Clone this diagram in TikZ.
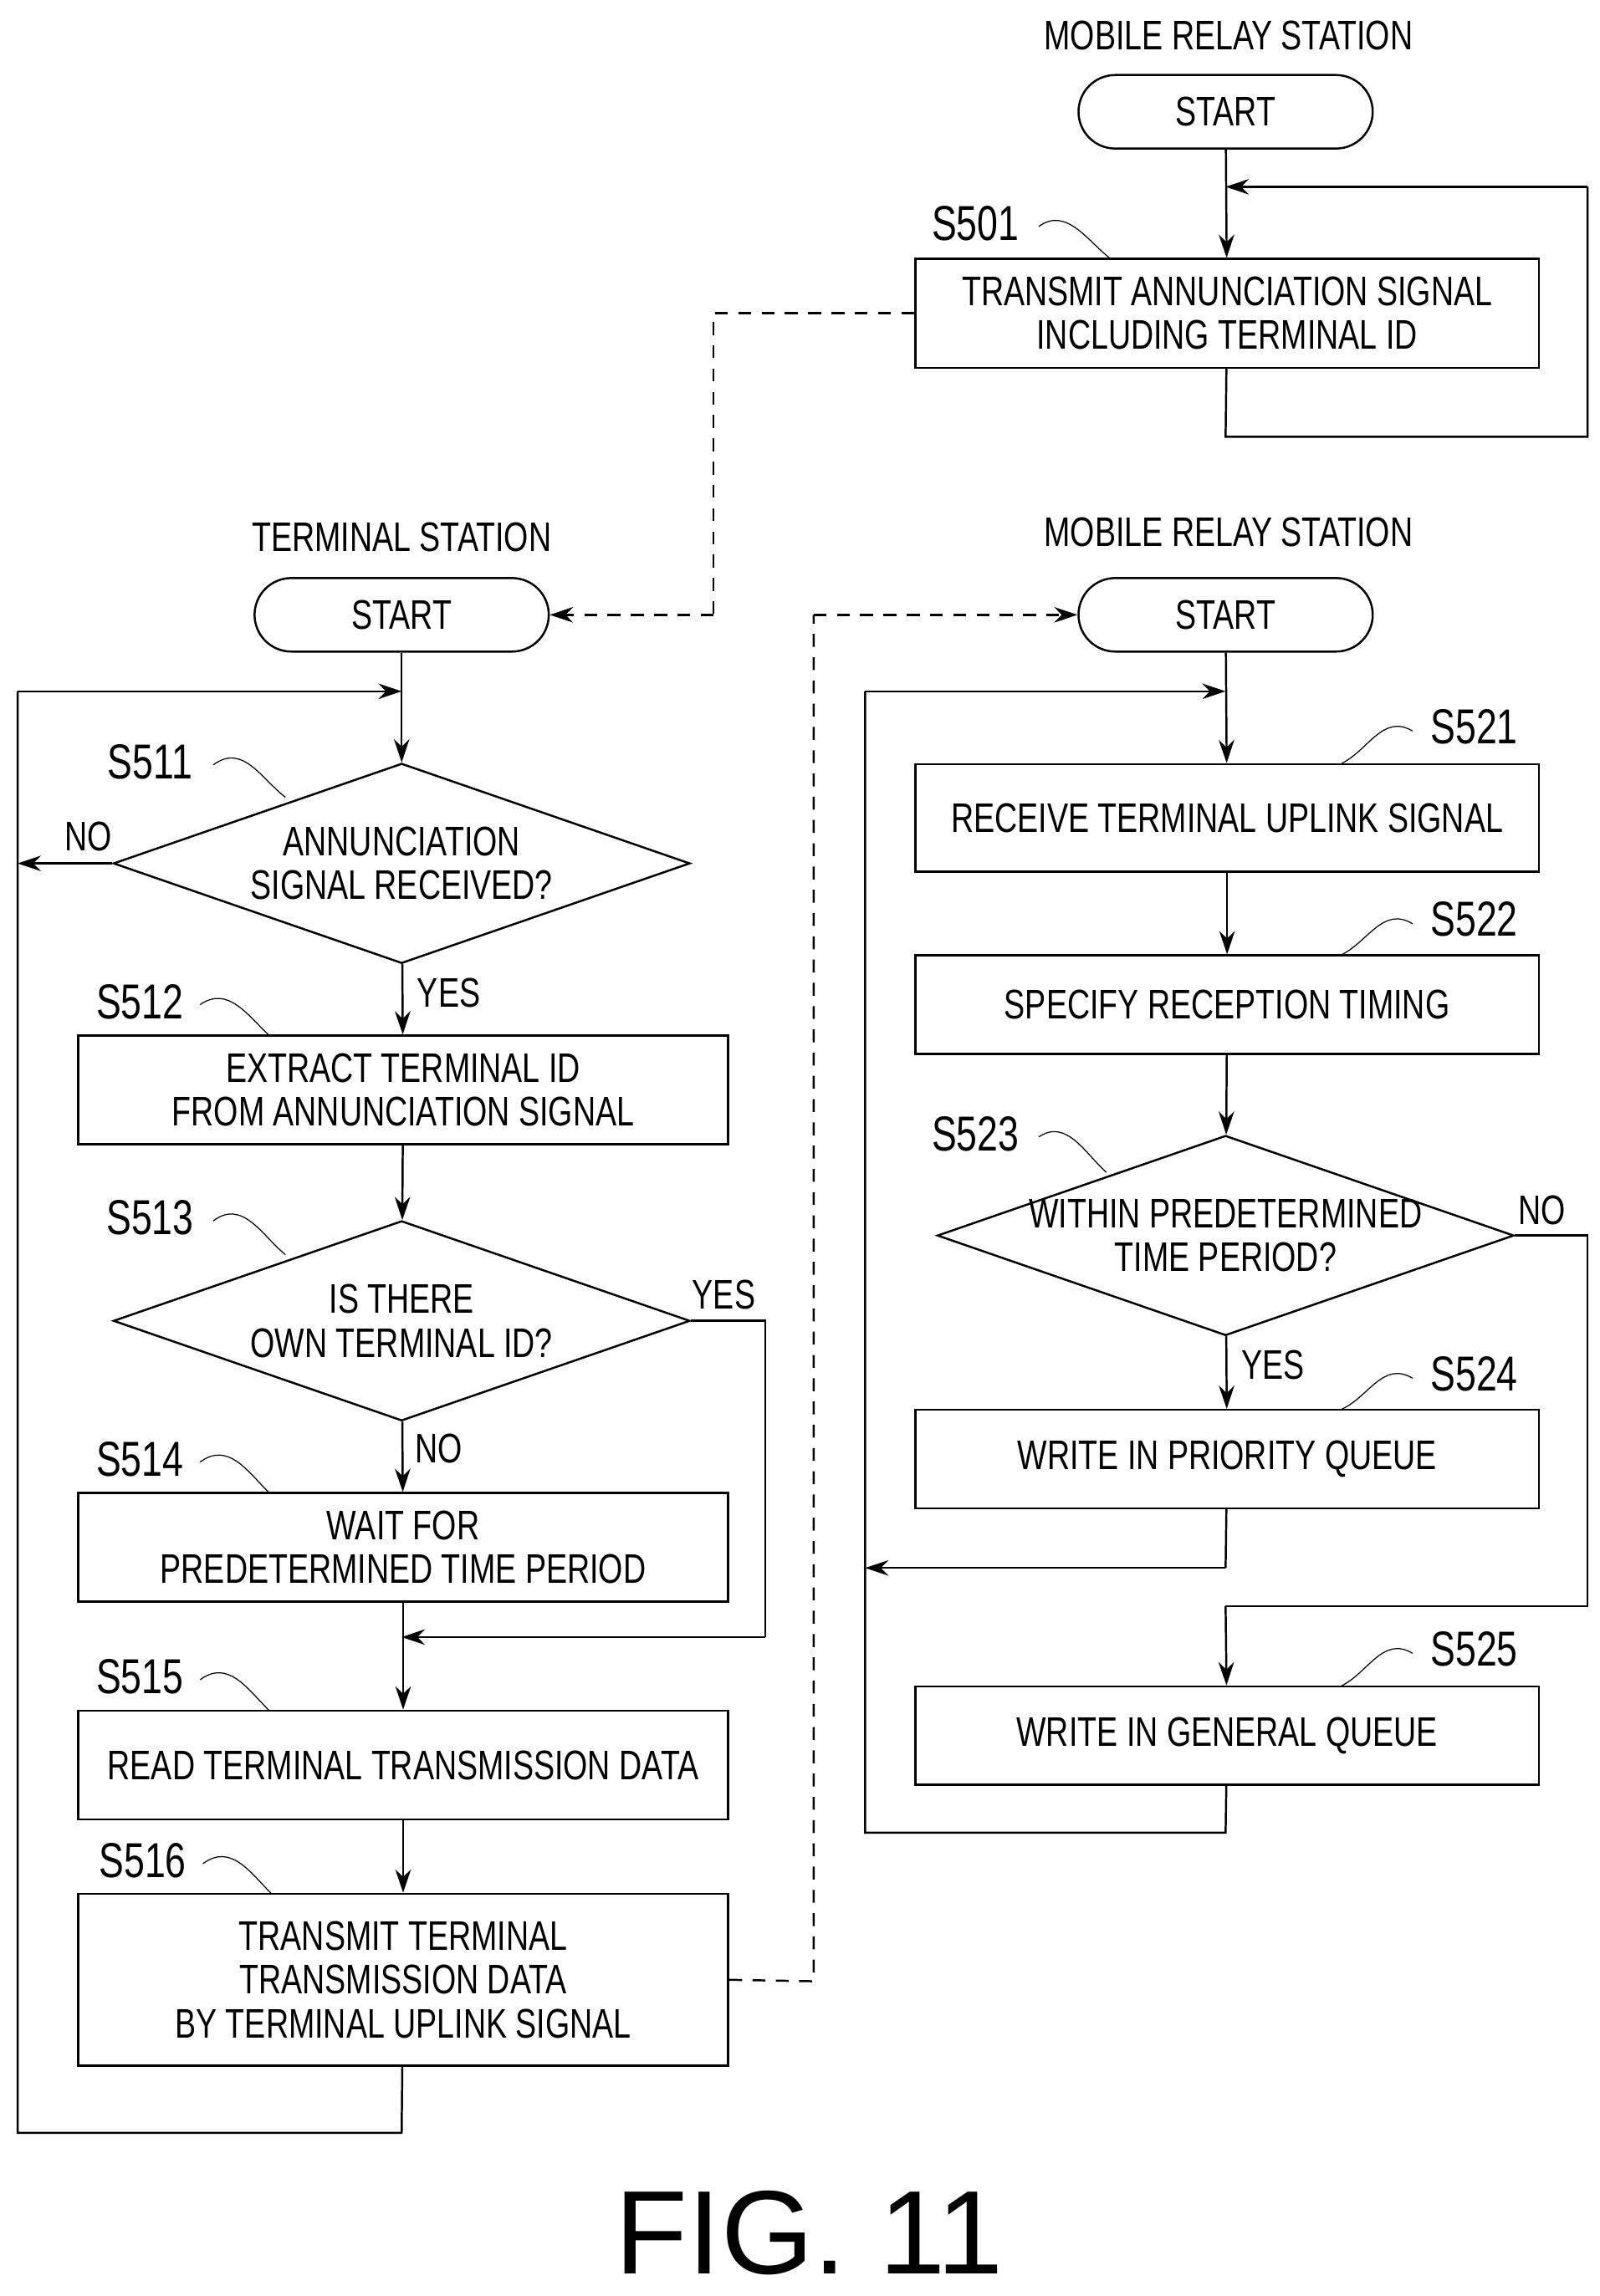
\documentclass[tikz,border=0pt]{standalone}
\usepackage{fontspec}
\setmainfont{Liberation Sans}[FakeStretch=0.76]
\newfontfamily\figfont{Liberation Sans}
\usetikzlibrary{positioning}
\usetikzlibrary{shapes.geometric,arrows.meta}

\tikzset{
	box/.style={draw, thick, rectangle, align=center, inner sep=2pt},
	term/.style={draw, thick, rounded corners=0.5cm, minimum width=4cm, minimum height=1cm},
	cond/.style={draw, thick, diamond, align=center, inner sep=-8pt, minimum width=7.84cm, minimum height=2.72cm, aspect=2.88},
	steplabel/.style={font=\fontsize{19}{22}\selectfont},
	flow/.style={thick, -{Stealth[length=9pt,width=6pt]}},
	link/.style={thick},
	radio/.style={thick, dashed, dash pattern=on 5pt off 4pt},
	tag/.style={thin},
}

\begin{document}
\begin{tikzpicture}[x=0.02cm, y=-0.02cm, font=\fontsize{16}{17}\selectfont]

	% ------------------------------------------------
	% Bounding box
	\useasboundingbox (0,0) rectangle (1087,1561);

	% ------------------------------------------------
	% Mobile relay station (annunciation)
	\node (TitleA) at (835,24) {MOBILE RELAY STATION};
	\node[term] (StartA) at (833,76) {START};
	\node[box, minimum width=8.48cm, minimum height=1.48cm] (S501) at (834,213) {TRANSMIT ANNUNCIATION SIGNAL\\INCLUDING TERMINAL ID};
	\node[steplabel] (S501L) at (663,152) {S501};

	\coordinate (LoopA1) at (833,297);
	\coordinate (LoopA2) at (1079,297);
	\coordinate (LoopA3) at (1079,127);
	\coordinate (LoopA4) at (833,127);

	\draw[flow] (StartA) -- (S501);
	\draw[link] (S501) -- (LoopA1) -- (LoopA2) -- (LoopA3);
	\draw[flow] (LoopA3) -- (LoopA4);
	\draw[tag] (706,154) .. controls (725,140) and (740,165) .. (755,176);

	% ------------------------------------------------
	% Terminal station
	\node (TitleT) at (273,365) {TERMINAL STATION};
	\node[term] (StartT) at (273,418) {START};
	\node[cond] (S511) at (273,587) {ANNUNCIATION\\SIGNAL RECEIVED?};
	\node[box, minimum width=8.84cm, minimum height=1.48cm] (S512) at (274,741) {EXTRACT TERMINAL ID\\FROM ANNUNCIATION SIGNAL};
	\node[cond] (S513) at (273,898) {IS THERE\\OWN TERMINAL ID?};
	\node[box, minimum width=8.84cm, minimum height=1.48cm] (S514) at (274,1052) {WAIT FOR\\PREDETERMINED TIME PERIOD};
	\node[box, minimum width=8.84cm, minimum height=1.48cm] (S515) at (274,1200) {READ TERMINAL TRANSMISSION DATA};
	\node[box, minimum width=8.84cm, minimum height=2.34cm] (S516) at (274,1346) {TRANSMIT TERMINAL\\TRANSMISSION DATA\\BY TERMINAL UPLINK SIGNAL};

	\node[steplabel] (S511L) at (102,518) {S511};
	\node[steplabel] (S512L) at (95,681) {S512};
	\node[steplabel] (S513L) at (102,828) {S513};
	\node[steplabel] (S514L) at (95,992) {S514};
	\node[steplabel] (S515L) at (95,1140) {S515};
	\node[steplabel] (S516L) at (97,1265) {S516};
	\node (No511) at (60,569) {NO};
	\node (Yes511) at (305,675) {YES};
	\node (Yes513) at (492,880) {YES};
	\node (No513) at (298,985) {NO};

	\coordinate (LoopT1) at (273,1450);
	\coordinate (LoopT2) at (12,1450);
	\coordinate (LoopT3) at (12,470);
	\coordinate (LoopT4) at (273,470);
	\coordinate (No511E) at (12,587);
	\coordinate (Yes513A) at (520,898);
	\coordinate (Yes513B) at (520,1113);
	\coordinate (Yes513C) at (273,1113);

	\draw[flow] (StartT) -- (S511);
	\draw[flow] (S511) -- (S512);
	\draw[flow] (S512) -- (S513);
	\draw[flow] (S513) -- (S514);
	\draw[flow] (S514) -- (S515);
	\draw[flow] (S515) -- (S516);
	\draw[flow] (S511.west) -- (No511E);
	\draw[link] (S513.east) -- (Yes513A) -- (Yes513B);
	\draw[flow] (Yes513B) -- (Yes513C);
	\draw[link] (S516) -- (LoopT1) -- (LoopT2) -- (LoopT3);
	\draw[flow] (LoopT3) -- (LoopT4);

	\draw[tag] (145,520) .. controls (165,505) and (178,530) .. (194,542);
	\draw[tag] (136,683) .. controls (155,670) and (168,690) .. (183,704);
	\draw[tag] (145,830) .. controls (165,815) and (178,840) .. (194,853);
	\draw[tag] (136,994) .. controls (155,980) and (168,1000) .. (183,1015);
	\draw[tag] (136,1142) .. controls (155,1128) and (168,1148) .. (183,1163);
	\draw[tag] (138,1267) .. controls (157,1253) and (170,1273) .. (185,1288);

	% ------------------------------------------------
	% Mobile relay station (reception)
	\node (TitleB) at (835,362) {MOBILE RELAY STATION};
	\node[term] (StartB) at (833,418) {START};
	\node[box, minimum width=8.48cm, minimum height=1.46cm] (S521) at (834,556) {RECEIVE TERMINAL UPLINK SIGNAL};
	\node[box, minimum width=8.48cm, minimum height=1.34cm] (S522) at (834,683) {SPECIFY RECEPTION TIMING};
	\node[cond, inner sep=-22pt] (S523) at (833,840) {WITHIN PREDETERMINED\\TIME PERIOD?};
	\node[box, minimum width=8.48cm, minimum height=1.34cm] (S524) at (834,992) {WRITE IN PRIORITY QUEUE};
	\node[box, minimum width=8.48cm, minimum height=1.34cm] (S525) at (834,1180) {WRITE IN GENERAL QUEUE};

	\node[steplabel] (S521L) at (1002,494) {S521};
	\node[steplabel] (S522L) at (1002,625) {S522};
	\node[steplabel] (S523L) at (663,771) {S523};
	\node[steplabel] (S524L) at (1002,934) {S524};
	\node[steplabel] (S525L) at (1002,1121) {S525};
	\node (No523) at (1048,823) {NO};
	\node (Yes523) at (865,928) {YES};

	\coordinate (LoopB1) at (833,1246);
	\coordinate (LoopB2) at (588,1246);
	\coordinate (LoopB3) at (588,470);
	\coordinate (LoopB4) at (833,470);
	\coordinate (Pri1) at (833,1066);
	\coordinate (Pri2) at (588,1066);
	\coordinate (No523A) at (1079,840);
	\coordinate (No523B) at (1079,1092);
	\coordinate (No523C) at (833,1092);

	\draw[flow] (StartB) -- (S521);
	\draw[flow] (S521) -- (S522);
	\draw[flow] (S522) -- (S523);
	\draw[flow] (S523) -- (S524);
	\draw[link] (S524) -- (Pri1);
	\draw[flow] (Pri1) -- (Pri2);
	\draw[link] (S523.east) -- (No523A) -- (No523B) -- (No523C);
	\draw[flow] (No523C) -- (S525);
	\draw[link] (S525) -- (LoopB1) -- (LoopB2) -- (LoopB3);
	\draw[flow] (LoopB3) -- (LoopB4);

	\draw[tag] (960,497) .. controls (940,485) and (930,510) .. (912,519);
	\draw[tag] (960,628) .. controls (940,616) and (930,640) .. (912,649);
	\draw[tag] (706,773) .. controls (725,760) and (738,785) .. (752,797);
	\draw[tag] (960,937) .. controls (940,925) and (930,950) .. (912,958);
	\draw[tag] (960,1124) .. controls (940,1112) and (930,1137) .. (912,1146);

	% ------------------------------------------------
	% Radio links
	\coordinate (RadA1) at (485,213);
	\coordinate (RadA2) at (485,418);
	\coordinate (RadB1) at (553,1347);
	\coordinate (RadB2) at (553,418);

	\draw[radio] (S501.west) -- (RadA1) -- (RadA2);
	\draw[radio, -{Stealth[length=9pt,width=6pt]}] (RadA2) -- (StartT.east);
	\draw[radio] (S516.east) -- (RadB1) -- (RadB2);
	\draw[radio, -{Stealth[length=9pt,width=6pt]}] (RadB2) -- (StartB.west);

	% ------------------------------------------------
	% Caption
	\node[font=\figfont\fontsize{46}{50}\selectfont] (Fig) at (550,1518) {FIG. 11};

\end{tikzpicture}
\end{document}
